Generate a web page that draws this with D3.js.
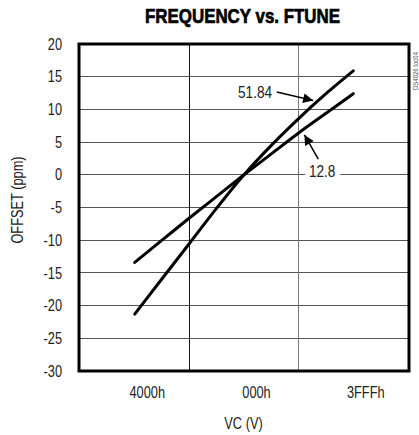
<!DOCTYPE html>
<meta charset="utf-8">
<style>
body { margin: 0; background: #fff; }
svg text {
  font-family: "Liberation Sans Narrow", "Arial Narrow", "Liberation Sans", sans-serif;
  fill: #222;
}
.grid line { stroke: #555; stroke-width: 1; shape-rendering: crispEdges; }
.curve { fill: none; stroke: #000; stroke-width: 3; stroke-linecap: round; }
</style>
<svg id="chart" width="419" height="435"></svg>
<script src="https://d3js.org/d3.v7.min.js"></script>
<script>

// tuning code positions, -1 = 4000h, 0 = 000h, 1 = 3FFFh
var codes = [-1, -0.75, -0.5, -0.25, 0, 0.25, 0.5, 0.75, 1];
var offset5184 = [-21.3, -15.9, -10.5, -5.1, 0, 4.5, 8.6, 12.4, 15.9];
var offset128 = [-13.4, -10.0, -6.6, -3.3, 0, 3.2, 6.4, 9.4, 12.4];
var xTickVals = [-1, 0, 1];
var xTickLabels = ["4000h", "000h", "3FFFh"];
var xGrid = [-0.5, 0.5];
var yTicks = [-30, -25, -20, -15, -10, -5, 0, 5, 10, 15, 20];

var svg = d3.select("#chart");

var x = d3.scaleLinear().domain([-1.51, 1.51]).range([79, 409]);
var y = d3.scaleLinear().domain([-30, 20]).range([371, 44]);

// grid
var grid = svg.append("g").attr("class", "grid");
grid.selectAll(".h")
  .data(yTicks.slice(1, -1))
  .enter().append("line")
  .attr("x1", x.range()[0]).attr("x2", x.range()[1])
  .attr("y1", function(d) { return y(d); })
  .attr("y2", function(d) { return y(d); });
grid.selectAll(".v")
  .data(xGrid)
  .enter().append("line")
  .attr("x1", function(d) { return x(d); })
  .attr("x2", function(d) { return x(d); })
  .attr("y1", y.range()[0]).attr("y2", y.range()[1])
  .style("stroke", function(d, i) { return i ? "#777" : "#111"; });

// y axis labels
var yAxis = d3.axisLeft(y).tickValues(yTicks).tickSize(0).tickPadding(17)
  .tickFormat(function(d) { return String(d); });
svg.append("g")
  .attr("transform", "translate(" + x.range()[0] + ",0)")
  .call(yAxis)
  .call(function(g) { g.select(".domain").remove(); })
  .selectAll("text")
  .style("font-size", "16px")
  .style("font-family", null);

// x axis labels (printed a little right of the code position)
var xAxis = d3.axisBottom(x).tickValues(xTickVals)
  .tickFormat(function(d, i) { return xTickLabels[i]; })
  .tickSize(0).tickPadding(16);
svg.append("g")
  .attr("transform", "translate(12," + y.range()[0] + ")")
  .call(xAxis)
  .call(function(g) { g.select(".domain").remove(); })
  .selectAll("text")
  .style("font-size", "16px")
  .style("font-family", null);

// curves
var line = d3.line()
  .x(function(d, i) { return x(codes[i]); })
  .y(function(d) { return y(d); })
  .curve(d3.curveMonotoneX);

svg.append("path").attr("class", "curve").attr("d", line(offset128));
svg.append("path").attr("class", "curve").attr("d", line(offset5184));

// frame
svg.append("rect")
  .attr("x", x.range()[0]).attr("y", y.range()[1])
  .attr("width", x.range()[1] - x.range()[0])
  .attr("height", y.range()[0] - y.range()[1])
  .attr("fill", "none").attr("stroke", "#000").attr("stroke-width", 3);

// annotations
svg.append("defs").append("marker")
  .attr("id", "arr").attr("viewBox", "0 0 10 10")
  .attr("refX", 10).attr("refY", 5)
  .attr("markerWidth", 16).attr("markerHeight", 10)
  .attr("markerUnits", "userSpaceOnUse")
  .attr("orient", "auto")
  .append("path").attr("d", "M0,0L10,5L0,10Z").attr("fill", "#000");

svg.append("text")
  .attr("x", x(0.257)).attr("y", y(12.7)).attr("dy", "0.35em")
  .attr("text-anchor", "end").style("font-size", "17px")
  .text("51.84");
svg.append("line")
  .attr("x1", x(0.3)).attr("y1", y(12.65))
  .attr("x2", x(0.633)).attr("y2", y(11.36))
  .attr("stroke", "#000").attr("stroke-width", 1.5)
  .attr("marker-end", "url(#arr)");

svg.append("rect")
  .attr("x", x(0.56)).attr("y", y(0) - 10)
  .attr("width", x(0.88) - x(0.56)).attr("height", 20)
  .attr("fill", "#fff");
svg.append("text")
  .attr("x", x(0.715)).attr("y", y(0.5)).attr("dy", "0.35em")
  .attr("text-anchor", "middle").style("font-size", "17px")
  .text("12.8");
svg.append("line")
  .attr("x1", x(0.68)).attr("y1", y(2.4))
  .attr("x2", x(0.553)).attr("y2", y(6.1))
  .attr("stroke", "#000").attr("stroke-width", 1.5)
  .attr("marker-end", "url(#arr)");

// titles
svg.append("text")
  .attr("class", "title")
  .attr("x", 242.5).attr("y", 23)
  .attr("text-anchor", "middle")
  .style("font-size", "21px").style("font-weight", "bold").style("fill", "#000")
  .style("stroke", "#000").style("stroke-width", 0.7)
  .text("FREQUENCY vs. FTUNE");

svg.append("text")
  .attr("transform", "translate(23,200) rotate(-90)")
  .attr("text-anchor", "middle").style("font-size", "16px")
  .text("OFFSET (ppm)");

svg.append("text")
  .attr("x", 243.5).attr("y", 429)
  .attr("text-anchor", "middle").style("font-size", "16px")
  .text("VC (V)");

svg.append("text")
  .attr("class", "tiny")
  .attr("transform", "translate(417.5,90) rotate(-90)")
  .attr("text-anchor", "start").style("font-size", "7.5px").style("fill", "#555")
  .text("DS4026 toc04");

// squeeze every label to the narrow face of the original
svg.selectAll("text").each(function() {
  var t = d3.select(this);
  var w = this.getComputedTextLength();
  if (t.classed("title")) w = 195 / 0.8;
  t.attr("textLength", w * 0.8).attr("lengthAdjust", "spacingAndGlyphs");
});

</script>
